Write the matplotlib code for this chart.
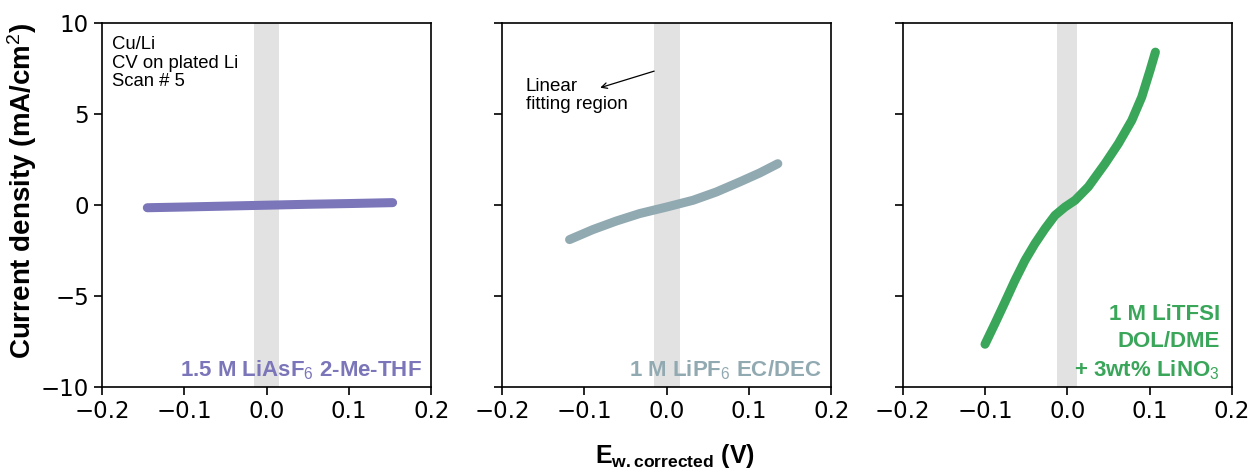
import matplotlib.pyplot as plt

plt.rcParams['mathtext.fontset'] = 'custom'
plt.rcParams['mathtext.rm'] = 'Liberation Sans'
plt.rcParams['mathtext.it'] = 'Liberation Sans:italic'
plt.rcParams['mathtext.bf'] = 'Liberation Sans:bold'

# potential (V) vs current density (mA/cm2)
e_asf6 = [-0.145, -0.1, -0.05, 0.0, 0.05, 0.1, 0.153]
j_asf6 = [-0.15, -0.11, -0.06, -0.01, 0.04, 0.08, 0.13]

e_pf6 = [-0.118, -0.0896, -0.0612, -0.0328, 0.0, 0.032, 0.060, 0.0888, 0.113, 0.135]
j_pf6 = [-1.90, -1.35, -0.88, -0.47, -0.11, 0.26, 0.71, 1.27, 1.76, 2.27]

e_tfsi = [-0.100, -0.088, -0.0757, -0.0636, -0.0514, -0.0393, -0.0271, -0.015, -0.0028,
          0.0094, 0.0255, 0.0458, 0.062, 0.0783, 0.0904, 0.1005, 0.107]
j_tfsi = [-7.65, -6.52, -5.33, -4.14, -3.04, -2.12, -1.30, -0.57, -0.11,
          0.26, 1.0, 2.27, 3.37, 4.65, 5.93, 7.4, 8.4]

panels = [
    (e_asf6, j_asf6, '#7b75b9', '1.5 M LiAsF$_6$ 2-Me-THF', (-0.015, 0.015), 0.97),
    (e_pf6, j_pf6, '#91a9b1', '1 M LiPF$_6$ EC/DEC', (-0.016, 0.016), 0.97),
    (e_tfsi, j_tfsi, '#3aa65a', '1 M LiTFSI\nDOL/DME\n+ 3wt% LiNO$_3$', (-0.012, 0.012), 0.963),
]

fig = plt.figure(figsize=(12.52, 4.74), dpi=100)
lefts = [0.0815, 0.401, 0.721]
axs = []
for i, (e, j, col, lab, band, xr) in enumerate(panels):
    ax = fig.add_axes([lefts[i], 0.1835, 0.263, 0.768])
    axs.append(ax)
    ax.axvspan(band[0], band[1], color='#e2e2e2', lw=0, zorder=0)
    ax.plot(e, j, color=col, lw=6.5, solid_capstyle='round', solid_joinstyle='round', zorder=2)
    ax.set_xlim(-0.2, 0.2)
    ax.set_ylim(-10, 10)
    ax.set_xticks([-0.2, -0.1, 0.0, 0.1, 0.2])
    ax.set_yticks([-10, -5, 0, 5, 10])
    ax.tick_params(labelsize=16.5, length=6, width=1.2)
    for s in ax.spines.values():
        s.set_linewidth(1.2)
    if i > 0:
        ax.set_yticklabels([])
    ax.text(xr, 0.015, lab, transform=ax.transAxes, ha='right', va='bottom',
            color=col, fontsize=16, fontweight='bold', family='Liberation Sans',
            linespacing=1.35)

axs[0].set_ylabel('Current density (mA/cm$^2$)', fontsize=20, fontweight='bold',
                  family='Liberation Sans')
axs[0].yaxis.set_label_coords(-0.19, 0.54)
axs[0].text(0.03, 0.963, 'Cu/Li\nCV on plated Li\nScan # 5', transform=axs[0].transAxes,
            ha='left', va='top', fontsize=13.3, family='Liberation Sans', linespacing=1.1)

axs[1].annotate('', xy=(-0.084, 6.4), xytext=(-0.012, 7.4),
                arrowprops=dict(arrowstyle='->', lw=0.9, color='black'))
axs[1].text(-0.171, 7.0, 'Linear\nfitting region', ha='left', va='top', fontsize=13.5,
            family='Liberation Sans', linespacing=1.1)

fig.text(0.539, 0.023, r'E$_{\mathbf{w.corrected}}$ (V)', ha='center', va='baseline',
         fontsize=18, fontweight='bold', family='Liberation Sans')

fig.savefig('out.png', dpi=100)
